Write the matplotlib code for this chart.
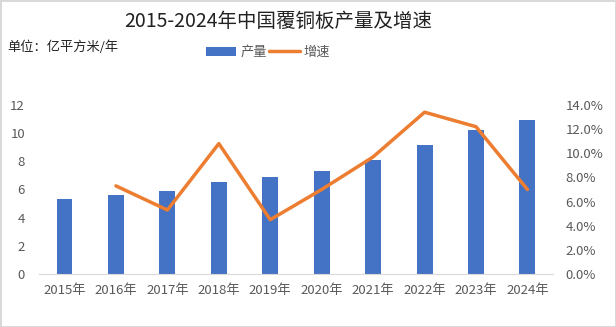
import numpy as np
import matplotlib.pyplot as plt
from matplotlib.ticker import FuncFormatter

plt.rcParams['font.family'] = ['Noto Sans CJK SC', 'DejaVu Sans']

years = ["2015年", "2016年", "2017年", "2018年", "2019年",
         "2020年", "2021年", "2022年", "2023年", "2024年"]
output = [5.3, 5.6, 5.9, 6.55, 6.9, 7.3, 8.1, 9.15, 10.2, 10.95]
growth_years = years[1:]
growth = [7.3, 5.3, 10.8, 4.5, 7.0, 9.7, 13.4, 12.2, 7.0]

blue = '#4472C4'
orange = '#ED7D31'
grey = '#595959'

fig = plt.figure(figsize=(6.16, 3.27), dpi=100)
fig.patch.set_edgecolor('#D9D9D9')
fig.patch.set_linewidth(1)
ax = fig.add_axes([0.063, 0.162, 0.835, 0.517])
ax2 = ax.twinx()

x = np.arange(len(years))
ax.bar(x, output, width=0.31, color=blue, label='产量', zorder=2)
gx = np.arange(1, len(years))
ax2.plot(gx, growth, color=orange, lw=2.5, label='增速', solid_capstyle='round')

ax.set_xlim(-0.5, len(years) - 0.5)
ax.set_ylim(0, 12)
ax.set_yticks(range(0, 13, 2))
ax2.set_ylim(0, 14)
ax2.set_yticks(range(0, 15, 2))
ax2.yaxis.set_major_formatter(FuncFormatter(lambda v, p: f"{v:.1f}%"))

ax.set_xticks(x)
ax.set_xticklabels(years)

for a in (ax, ax2):
    for s in a.spines.values():
        s.set_visible(False)
    a.tick_params(length=0, labelsize=9.5, colors=grey)
ax.spines['bottom'].set_visible(True)
ax.spines['bottom'].set_color('#D9D9D9')
ax.tick_params(axis='y', pad=10)
ax.tick_params(axis='x', pad=7)
ax2.tick_params(axis='y', pad=9)

fig.text(0.451, 0.935, "2015-2024年中国覆铜板产量及增速", ha='center', va='center',
         fontsize=14, color='#222222')
fig.text(0.012, 0.855, "单位：亿平方米/年", ha='left', va='center', fontsize=9.5,
         color='#222222')

h1, l1 = ax.get_legend_handles_labels()
h2, l2 = ax2.get_legend_handles_labels()
fig.legend(h1 + h2, l1 + l2, loc='center', bbox_to_anchor=(0.435, 0.84), ncol=2,
           frameon=False, fontsize=9.5, handlelength=2.3, handletextpad=0.3,
           columnspacing=0.2, labelcolor=grey)

fig.savefig('out.png', dpi=100)
